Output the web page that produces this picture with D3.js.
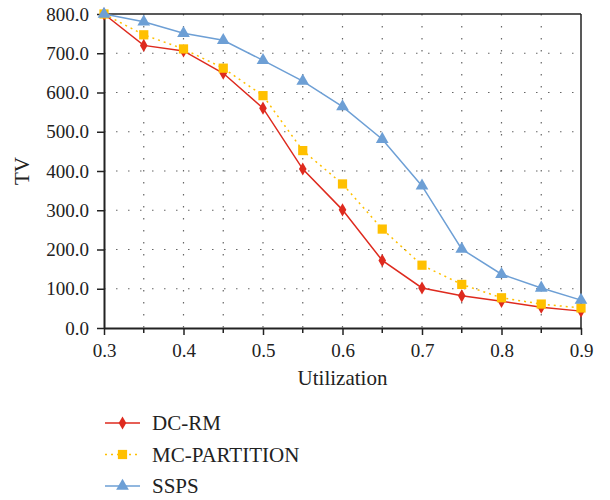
<!DOCTYPE html>
<html>
<head>
<meta charset="utf-8">
<script src="https://cdn.jsdelivr.net/npm/d3@7"></script>
</head>
<body style="margin:0">
<svg width="610" height="500" style="font-family: 'Liberation Serif'"></svg>
<script>
// Utilization values on the x axis
const utilization = [0.3, 0.35, 0.4, 0.45, 0.5, 0.55, 0.6, 0.65, 0.7, 0.75, 0.8, 0.85, 0.9];
const dcRm = [800, 720, 706, 649, 560, 405, 301, 172, 102, 82, 68, 53, 43];
const mcPartition = [800, 747, 711, 662, 592, 452, 367, 252, 160, 111, 77, 61, 51];
const ssps = [800, 780, 751, 733, 682, 629, 564, 481, 362, 201, 137, 102, 71];
const yTicks = [0, 100, 200, 300, 400, 500, 600, 700, 800];
const xTicks = [0.3, 0.4, 0.5, 0.6, 0.7, 0.8, 0.9];

const series = [
  {name: "DC-RM", values: dcRm, color: "#de2a1e", dash: null, symbol: d3.symbolDiamond, size: 50},
  {name: "MC-PARTITION", values: mcPartition, color: "#ffc000", dash: "2,4", symbol: d3.symbolSquare, size: 85},
  {name: "SSPS", values: ssps, color: "#6d9fd5", dash: null, symbol: d3.symbolTriangle, size: 70}
];

const margin = {left: 104, right: 29, top: 14, bottom: 172};
const width = 610, height = 500;

const svg = d3.select("svg");

const x = d3.scaleLinear().domain([0.3, 0.9]).range([margin.left, width - margin.right]);
const y = d3.scaleLinear().domain([0, 800]).range([height - margin.bottom, margin.top]);

// dotted grid
svg.append("g")
  .selectAll("line")
  .data(yTicks.slice(1, -1))
  .join("line")
    .attr("x1", x(0.3)).attr("x2", x(0.9))
    .attr("y1", d => y(d)).attr("y2", d => y(d))
    .attr("stroke", "#666")
    .attr("stroke-width", 1.2)
    .attr("stroke-dasharray", "1.5,10.5");

svg.append("g")
  .selectAll("line")
  .data(utilization.slice(1, -1))
  .join("line")
    .attr("x1", d => x(d)).attr("x2", d => x(d))
    .attr("y1", y(800)).attr("y2", y(0))
    .attr("stroke", "#666")
    .attr("stroke-width", 1.2)
    .attr("stroke-dasharray", "1.5,10.5");

// frame
svg.append("line")
  .attr("x1", x(0.3)).attr("x2", x(0.9))
  .attr("y1", y(800)).attr("y2", y(800))
  .attr("stroke", "#222").attr("stroke-width", 1.5);
svg.append("line")
  .attr("x1", x(0.9)).attr("x2", x(0.9))
  .attr("y1", y(800)).attr("y2", y(0))
  .attr("stroke", "#222").attr("stroke-width", 1.5);

// minor x ticks
svg.append("g")
  .selectAll("line")
  .data(utilization.filter(d => !xTicks.includes(d)))
  .join("line")
    .attr("x1", d => x(d)).attr("x2", d => x(d))
    .attr("y1", y(0)).attr("y2", y(0) + 5)
    .attr("stroke", "#222").attr("stroke-width", 1.5);

// axes
const xAxis = svg.append("g")
  .attr("transform", `translate(0,${y(0)})`)
  .call(d3.axisBottom(x).tickValues(xTicks).tickFormat(d3.format(".1f")).tickSize(7).tickSizeOuter(0));

const yAxis = svg.append("g")
  .attr("transform", `translate(${x(0.3)},0)`)
  .call(d3.axisLeft(y).tickValues(yTicks).tickFormat(d3.format(".1f")).tickSize(7).tickSizeOuter(0));

[xAxis, yAxis].forEach(a => {
  a.attr("font-family", "Liberation Serif").attr("font-size", 19);
  a.select(".domain").attr("stroke", "#222").attr("stroke-width", 2);
  a.selectAll(".tick line").attr("stroke", "#222").attr("stroke-width", 1.5);
  a.selectAll(".tick text").attr("fill", "#222");
});
xAxis.selectAll(".tick text").attr("y", 13).attr("dy", "0.85em");
yAxis.selectAll(".tick text").attr("x", -15);

// axis titles
svg.append("text")
  .attr("x", (x(0.3) + x(0.9)) / 2)
  .attr("y", 385)
  .attr("text-anchor", "middle")
  .attr("font-family", "Liberation Serif")
  .attr("font-size", 21)
  .attr("fill", "#222")
  .text("Utilization");

svg.append("text")
  .attr("transform", `translate(29,${(y(0) + y(800)) / 2}) rotate(-90)`)
  .attr("text-anchor", "middle")
  .attr("font-family", "Liberation Serif")
  .attr("font-size", 21)
  .attr("fill", "#222")
  .text("TV");

// lines and markers
const line = d3.line()
  .x((d, i) => x(utilization[i]))
  .y(d => y(d));

series.forEach(s => {
  svg.append("path")
    .datum(s.values)
    .attr("fill", "none")
    .attr("stroke", s.color)
    .attr("stroke-width", 1.5)
    .attr("stroke-dasharray", s.dash)
    .attr("d", line);

  svg.append("g")
    .selectAll("path")
    .data(s.values)
    .join("path")
      .attr("transform", (d, i) => `translate(${x(utilization[i])},${y(d)})`)
      .attr("d", d3.symbol().type(s.symbol).size(s.size))
      .attr("fill", s.color);
});

// legend
const legend = svg.append("g")
  .selectAll("g")
  .data(series)
  .join("g")
    .attr("transform", (d, i) => `translate(105,${423 + i * 31.5})`);

legend.append("line")
  .attr("x1", 0).attr("x2", 35)
  .attr("stroke", d => d.color)
  .attr("stroke-width", 1.5)
  .attr("stroke-dasharray", d => d.dash);
legend.append("path")
  .attr("transform", "translate(17.5,0)")
  .attr("d", d => d3.symbol().type(d.symbol).size(d.size)())
  .attr("fill", d => d.color);
legend.append("text")
  .attr("x", 47)
  .attr("dy", "0.35em")
  .attr("font-family", "Liberation Serif")
  .attr("font-size", 21)
  .attr("fill", "#222")
  .text(d => d.name);
</script>
</body>
</html>
